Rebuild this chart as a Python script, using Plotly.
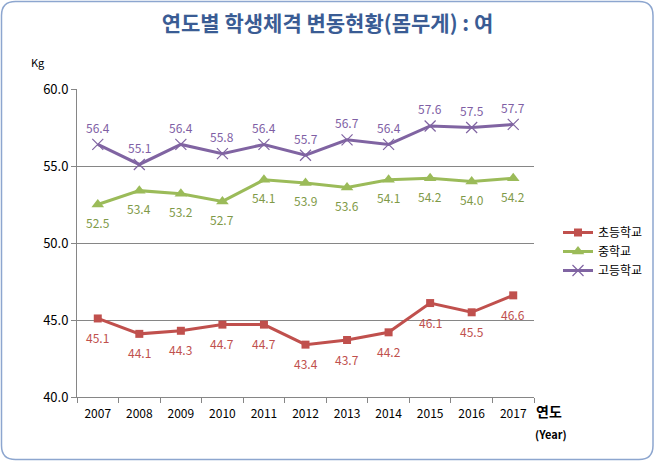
import plotly.graph_objects as go

years = ["2007", "2008", "2009", "2010", "2011", "2012", "2013", "2014", "2015", "2016", "2017"]
elem = [45.1, 44.1, 44.3, 44.7, 44.7, 43.4, 43.7, 44.2, 46.1, 45.5, 46.6]
middle = [52.5, 53.4, 53.2, 52.7, 54.1, 53.9, 53.6, 54.1, 54.2, 54.0, 54.2]
high = [56.4, 55.1, 56.4, 55.8, 56.4, 55.7, 56.7, 56.4, 57.6, 57.5, 57.7]
names = ["초등학교", "중학교", "고등학교"]

W, H = 655, 462
L, R, T, B = 77, 121, 89, 65
pw, ph = W - L - R, H - T - B

def px(x):
    return (x - L) / pw

def py(y):
    return (H - B - y) / ph

font = "Malgun Gothic, Noto Sans CJK KR, sans-serif"

series = [
    (names[0], elem, "#C0504D", "#C0504D", dict(symbol="square", size=8, color="#C0504D"), -19),
    (names[1], middle, "#9BBB59", "#7F9A48", dict(symbol="triangle-up", size=11, color="#9BBB59"), -18),
    (names[2], high, "#8064A2", "#7F5FA5",
     dict(symbol="x-thin", size=11, line=dict(color="#8064A2", width=1.2)), 17),
]

fig = go.Figure()
annotations = []
for name, vals, col, tcol, mk, shift in series:
    fig.add_trace(go.Scatter(
        x=years, y=vals, name=name, mode="lines+markers",
        line=dict(color=col, width=3), marker=mk,
    ))
    for i, yv in enumerate(vals):
        annotations.append(dict(
            x=i, y=yv, xref="x", yref="y", text=f"{yv:.1f}", showarrow=False,
            xanchor="center", yanchor="middle", yshift=shift,
            font=dict(color=tcol, size=12, family=font)))

# rounded border
x0, x1 = px(1.5), px(653)
y0, y1 = py(459.5), py(1.5)
rx, ry = 14 / pw, 14 / ph
path = (f"M {x0+rx},{y1} L {x1-rx},{y1} Q {x1},{y1} {x1},{y1-ry} "
        f"L {x1},{y0+ry} Q {x1},{y0} {x1-rx},{y0} "
        f"L {x0+rx},{y0} Q {x0},{y0} {x0},{y0+ry} "
        f"L {x0},{y1-ry} Q {x0},{y1} {x0+rx},{y1} Z")

annotations += [
    dict(text="Kg", xref="paper", yref="paper", x=px(38), y=py(62),
         xanchor="center", yanchor="middle",
         showarrow=False, font=dict(size=11, family=font)),
    dict(text="<b>연도</b>", xref="paper", yref="paper", x=px(549), y=py(411),
         xanchor="center", yanchor="middle",
         showarrow=False, font=dict(size=14, family=font)),
    dict(text="<b>(Year)</b>", xref="paper", yref="paper", x=px(551), y=py(434),
         xanchor="center", yanchor="middle",
         showarrow=False, font=dict(size=11, family=font)),
]

fig.update_layout(
    width=W, height=H,
    margin=dict(l=L, r=R, t=T, b=B, autoexpand=False),
    paper_bgcolor="white", plot_bgcolor="white",
    font=dict(family=font, color="black", size=12),
    title=dict(text="<b>연도별 학생체격 변동현황(몸무게) : 여</b>", x=0.5, xanchor="center",
               xref="container",
               y=1 - 24 / H, yanchor="middle",
               font=dict(size=21, color="#3A5C94", family=font)),
    showlegend=True,
    legend=dict(x=px(558), y=py(218), xanchor="left", yanchor="top",
                font=dict(size=12, family=font), itemwidth=30,
                tracegroupgap=2, bgcolor="rgba(0,0,0,0)"),
    xaxis=dict(type="category", showgrid=False, showline=True, linecolor="#868686",
               linewidth=1, ticks="outside", tickson="boundaries", ticklen=5,
               tickcolor="#868686", tickfont=dict(size=12, family=font),
               ticklabelstandoff=6,
               range=[-0.5, 10.5], fixedrange=True),
    yaxis=dict(range=[40, 60], dtick=5, tickformat=".1f", showgrid=True,
               gridcolor="#868686", gridwidth=1, showline=True, linecolor="#868686",
               ticks="outside", ticklen=5, tickcolor="#868686",
               tickfont=dict(size=13, family=font), zeroline=False),
    shapes=[dict(type="path", xref="paper", yref="paper", path=path,
                 line=dict(color="#8DA6CF", width=1.5), fillcolor="rgba(0,0,0,0)")],
    annotations=annotations,
)

fig.write_html("out.html", config={"responsive": False, "displayModeBar": False})
with open("out.html", encoding="utf-8") as f:
    html = f.read()
html = html.replace("<head>", "<head><style>html,body{margin:0;padding:0;overflow:hidden}</style>", 1)
with open("out.html", "w", encoding="utf-8") as f:
    f.write(html)
